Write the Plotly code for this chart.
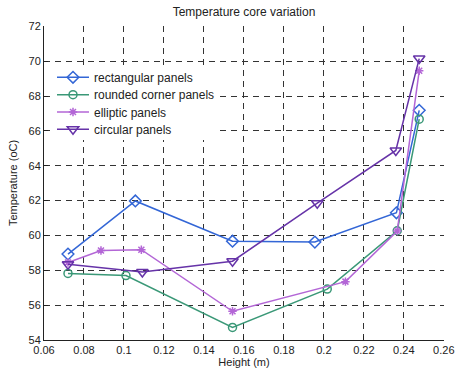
import plotly.graph_objects as go

rect_x = [0.072, 0.1057, 0.1543, 0.1955, 0.2363, 0.2477]
rect_y = [58.93, 61.98, 59.67, 59.62, 61.3, 67.18]

round_x = [0.072, 0.101, 0.1543, 0.2017, 0.2367, 0.2477]
round_y = [57.82, 57.7, 54.72, 56.92, 60.27, 66.67]

ell_x = [0.072, 0.0885, 0.1087, 0.1543, 0.2108, 0.2367, 0.2477]
ell_y = [58.45, 59.14, 59.18, 55.65, 57.35, 60.25, 69.45]

circ_x = [0.072, 0.1092, 0.1543, 0.1967, 0.236, 0.2477]
circ_y = [58.35, 57.9, 58.52, 61.85, 64.88, 70.15]

series = [
    ("rectangular panels", rect_x, rect_y, "#3366D6", "diamond-open", 9),
    ("rounded corner panels", round_x, round_y, "#3A9877", "circle-open", 8),
    ("elliptic panels", ell_x, ell_y, "#B366D6", "asterisk-open", 7),
    ("circular panels", circ_x, circ_y, "#6633A8", "triangle-down-open", 10),
]

L, R, T, B = 44, 444, 26, 340
legend_rows = [77.3, 94.7, 112, 129.3]

fig = go.Figure()
legend_layout = {}
for i, (name, xs, ys, col, sym, sz) in enumerate(series):
    lname = "legend" if i == 0 else f"legend{i + 1}"
    fig.add_trace(go.Scatter(
        x=xs, y=ys, name=name, mode="lines+markers", legend=lname,
        line=dict(color=col, width=1.5),
        marker=dict(symbol=sym, size=sz, color=col, line=dict(color=col, width=1.5)),
    ))
    legend_layout[lname] = dict(
        x=0.02, y=(B - legend_rows[i]) / (B - T), xanchor="left", yanchor="middle",
        bgcolor="rgba(0,0,0,0)", borderwidth=0, itemwidth=32,
        font=dict(family="Liberation Sans, Arial, sans-serif", size=12, color="#222"),
    )

# white legend box (no border) hiding the grid behind the legend
fig.add_shape(type="rect", xref="paper", yref="paper", layer="above",
              x0=(50 - L) / (R - L), x1=(218 - L) / (R - L),
              y0=(B - 140) / (B - T), y1=(B - 66) / (B - T),
              fillcolor="white", line=dict(width=0))

font = dict(family="Liberation Sans, Arial, sans-serif", size=11, color="#222")
fig.update_layout(
    width=456, height=375,
    margin=dict(l=L, r=456 - R, t=T, b=375 - B),
    paper_bgcolor="white", plot_bgcolor="white",
    font=font,
    title=dict(text="Temperature core variation", x=(L + R) / 2 / 456, xanchor="center",
               y=1 - 12 / 375, yanchor="middle", font=dict(size=12, color="#222")),
    showlegend=True,
    **legend_layout,
)
fig.update_xaxes(
    range=[0.06, 0.2601], tick0=0.06, dtick=0.02, tickformat="~r",
    showline=True, linecolor="#222", linewidth=1, mirror=False,
    ticks="inside", ticklen=4, tickcolor="#222", automargin=False,
    showgrid=True, gridcolor="#333", griddash="6px,5px", gridwidth=1,
    zeroline=False,
    title=dict(text="Height (m)", standoff=3, font=dict(size=11)),
)
fig.update_yaxes(
    range=[54, 72.02], tick0=54, dtick=2,
    showline=True, linecolor="#222", linewidth=1, mirror=False,
    ticks="inside", ticklen=4, tickcolor="#222", automargin=False,
    showgrid=True, gridcolor="#333", griddash="6px,5px", gridwidth=1,
    zeroline=False,
    title=dict(text="Temperature (oC)", standoff=8, font=dict(size=11)),
)
fig.write_html("out.html", config={"displayModeBar": False},
               post_script="document.body.style.margin='0';")
